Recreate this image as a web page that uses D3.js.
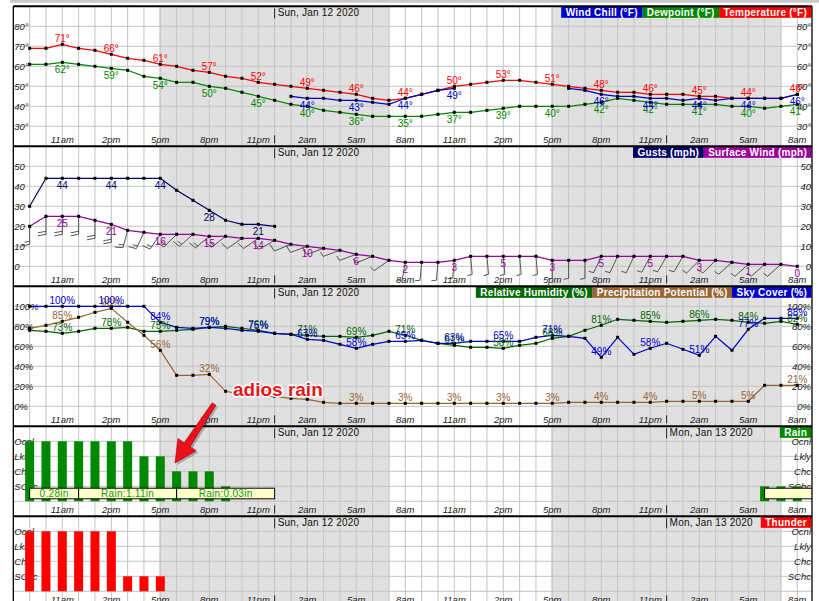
<!DOCTYPE html>
<html><head><meta charset="utf-8">
<script src="https://cdn.jsdelivr.net/npm/d3@7"></script>
<style>
body{margin:0;background:#fff;}
svg{display:block;}
text{font-family:"Liberation Sans",Arial,sans-serif;}
</style></head><body>
<svg id="chart" width="819" height="601"></svg>
<script>
// ---------------- DATA ----------------
const startTime = new Date(2020, 0, 11, 9);   // first forecast hour (Sat 9am)
const hourCount = 48;
const temperature = [69,69,71,69,68,66,64,63,61,60,58,57,55,54,52,51,50,49,48,47,46,44,43,44,46,48,50,51,52,53,53,52,51,50,49,48,47,47,46,46,46,45,45,44,44,44,44,46];
const dewpoint    = [61,61,62,61,60,59,58,55,54,52,52,50,49,47,45,43,41,40,38,37,36,35,35,35,35,36,37,37,38,39,40,40,40,40,41,42,44,43,42,41,41,41,41,40,40,39,40,41];
const windChill   = [null,null,null,null,null,null,null,null,null,null,null,null,null,null,null,null,45,44,44,43,43,42,41,44,46,48,49,null,null,null,null,null,null,49,48,46,45,45,44,44,43,44,43,44,44,44,44,46];
const gusts       = [30,44,44,44,44,44,44,44,44,38,33,28,23,21,21,20,null,null,null,null,null,null,null,null,null,null,null,null,null,null,null,null,null,null,null,null,null,null,null,null,null,null,null,null,null,null,null,null];
const surfaceWind = [20,25,25,25,23,21,18,17,16,16,16,15,15,14,14,13,11,10,9,8,6,5,3,2,2,2,3,5,5,5,5,5,3,3,3,5,5,5,5,5,5,3,3,2,1,1,1,0];
const windDir     = [180,180,180,180,180,180,195,205,215,225,228,230,232,235,235,240,248,250,250,250,250,248,235,190,185,185,185,175,175,175,175,175,180,180,180,205,205,205,208,210,210,225,225,228,228,228,228,0];
const humidity    = [76,75,73,75,78,78,79,75,75,76,77,79,80,78,76,73,72,71,70,70,69,71,75,71,66,63,61,59,59,58,61,63,68,70,76,81,87,86,85,84,85,86,87,86,84,83,85,82];
const precipPot   = [78,81,85,89,94,98,84,71,56,31,31,32,15,12,11,10,8,7,4,3,3,3,3,3,3,3,3,3,3,3,3,3,3,4,4,4,4,4,4,5,5,5,5,5,5,21,21,21];
const skyCover    = [100,100,100,100,100,100,100,100,84,79,78,79,78,76,75,73,72,67,66,62,58,62,65,65,66,63,63,65,65,65,65,69,71,70,68,49,69,52,58,63,57,51,70,56,77,88,88,88];
const rainLevel   = [4,4,4,4,4,4,4,3,3,2,2,2,1,0,0,0,0,0,0,0,0,0,0,0,0,0,0,0,0,0,0,0,0,0,0,0,0,0,0,0,0,0,0,0,0,1,1,1];
const thunderLevel= [4,4,4,4,4,4,1,1,1,0,0,0,0,0,0,0,0,0,0,0,0,0,0,0,0,0,0,0,0,0,0,0,0,0,0,0,0,0,0,0,0,0,0,0,0,0,0,0];
const chanceLabels = ["SChc","Chc","Lkly","Ocnl"];
const rainTotalText  = ["0.28in","Rain:1.11in","Rain:0.03in",""];
const rainTotalStart = [0,3,9,45];
const rainTotalEnd   = [3,9,15,51];
const tempTicks = [30,40,50,60,70,80];
const windTicks = [0,10,20,30,40,50];
const pctTicks  = [0,20,40,60,80,100];
const nightStart = [new Date(2020,0,11,16,55), new Date(2020,0,12,16,55)];
const nightEnd   = [new Date(2020,0,12,7,2),  new Date(2020,0,13,7,2)];
const dayLabels  = ["Sun, Jan 12 2020","Mon, Jan 13 2020"];
const dayStarts  = [new Date(2020,0,12,0), new Date(2020,0,13,0)];

// ---------------- SETUP ----------------
const times = d3.range(hourCount).map(i => d3.timeHour.offset(startTime, i));
const labelIdx = d3.range(hourCount).filter(i => times[i].getHours() % 3 === 2);
const fmtHour = d => d3.timeFormat("%-I%p")(d).toLowerCase();

const svg = d3.select("#chart");
svg.append("rect").attr("width",819).attr("height",601).attr("fill","#fff");
svg.append("rect").attr("x",10).attr("y",0).attr("width",809).attr("height",2.7).attr("fill","#c8c8c8");

const X0 = 13.3, X1 = 812;
const x = d3.scaleTime()
  .domain([new Date(2020,0,11,8), new Date(2020,0,13,9)])
  .range([X0, X0 + 49*16.333]);

const panels = [
  {id:"temp", top:6.3,   bottom:146.3, domain:[20,90],  ticks:tempTicks, fmt:d=>d+"°"},
  {id:"wind", top:146.3, bottom:286.3, domain:[-10,60], ticks:windTicks, fmt:d=>String(d)},
  {id:"pct",  top:286.3, bottom:426.3, domain:[-20,120],ticks:pctTicks,  fmt:d=>d+"%"},
  {id:"rain", top:426.3, bottom:516.3, domain:[-1,5],   ticks:[1,2,3,4], fmt:d=>chanceLabels[d-1]},
  {id:"thun", top:516.3, bottom:606.3, domain:[-1,5],   ticks:[1,2,3,4], fmt:d=>chanceLabels[d-1]}
];

const defs = svg.append("defs");
panels.forEach(p => {
  p.y = d3.scaleLinear().domain(p.domain).range([p.bottom, p.top]);
  defs.append("clipPath").attr("id","clip-"+p.id).append("rect")
    .attr("x",X0).attr("y",p.top).attr("width",X1-X0).attr("height",p.bottom-p.top);
  const g = svg.append("g").attr("clip-path","url(#clip-"+p.id+")");
  p.g = g;
  g.append("rect").attr("x",X0).attr("y",p.top).attr("width",X1-X0).attr("height",p.bottom-p.top).attr("fill","#fff");
  nightStart.forEach((s,i) => {
    g.append("rect").attr("x",x(s)).attr("y",p.top).attr("width",x(nightEnd[i])-x(s))
      .attr("height",p.bottom-p.top).attr("fill","#e0e0e0");
  });
  g.selectAll(".vg").data(times).join("line")
    .attr("x1",d=>x(d)).attr("x2",d=>x(d)).attr("y1",p.top).attr("y2",p.bottom)
    .attr("stroke","#c4c4c4").attr("stroke-width",1);
  g.selectAll(".hg").data(p.ticks.concat(p.id==="rain"||p.id==="thun"?[0]:[])).join("line")
    .attr("x1",X0).attr("x2",X1).attr("y1",d=>p.y(d)).attr("y2",d=>p.y(d))
    .attr("stroke","#c4c4c4").attr("stroke-width",1);
  // y labels
  g.selectAll(".yl").data(p.ticks).join("text")
    .attr("x",X0+1).attr("y",d=>p.y(d)+3.5).text(p.fmt)
    .attr("font-size",9.5).attr("font-style","italic").attr("fill","#222");
  g.selectAll(".yr").data(p.ticks).join("text")
    .attr("x",X1-1).attr("y",d=>p.y(d)+3.5).attr("text-anchor","end").text(p.fmt)
    .attr("font-size",9.5).attr("font-style","italic").attr("fill","#222");
  // time labels
  g.selectAll(".tl").data(labelIdx).join("text")
    .attr("x",i=>x(times[i])).attr("y",p.bottom-3.5).attr("text-anchor","middle")
    .text(i=>fmtHour(times[i])).attr("font-size",9.5).attr("font-style","italic").attr("fill","#222");
  // day markers
  dayStarts.forEach((d,i) => {
    g.append("line").attr("x1",x(d)).attr("x2",x(d)).attr("y1",p.top+2).attr("y2",p.top+12)
      .attr("stroke","#222").attr("stroke-width",1);
    g.append("line").attr("x1",x(d)).attr("x2",x(d)).attr("y1",p.bottom-11).attr("y2",p.bottom-3)
      .attr("stroke","#222").attr("stroke-width",1);
    g.append("text").attr("x",x(d)+3).attr("y",p.top+10).text(dayLabels[i])
      .attr("font-size",10).attr("letter-spacing",0.2).attr("fill","#111");
  });
});

function drawSeries(p, values, color) {
  const line = d3.line().defined(d=>d!=null).x((d,i)=>x(times[i])).y(d=>p.y(d));
  p.g.append("path").datum(values).attr("d",line).attr("fill","none")
    .attr("stroke",color).attr("stroke-width",1.2);
}
function drawMarkers(p, values) {
  p.g.append("g").selectAll("rect").data(values.map((v,i)=>[v,i]).filter(d=>d[0]!=null)).join("rect")
    .attr("x",d=>x(times[d[1]])-1.5).attr("y",d=>p.y(d[0])-1.5).attr("width",3).attr("height",3).attr("fill","#000");
}
function drawLabels(p, values, color, above, suffix) {
  p.g.append("g").selectAll("text").data(labelIdx.filter(i=>values[i]!=null)).join("text")
    .attr("x",i=>x(times[i])).attr("y",i=>p.y(values[i]) + (above ? -2.5 : 10.5))
    .attr("text-anchor","middle").attr("font-size",10).attr("fill",color)
    .text(i=>values[i]+suffix);
}
function drawLegend(p, items) {
  const lg = p.g.append("g");
  let right = X1 - 0.5;
  for (let k = items.length-1; k >= 0; k--) {
    const r = lg.append("rect");
    const t = lg.append("text").text(items[k][0]).attr("font-size",10).attr("font-weight","bold")
      .attr("letter-spacing",0.25).attr("fill","#fff").attr("y",p.top+9.6);
    const w = t.node().getComputedTextLength() + 9;
    right -= w;
    r.attr("x",right).attr("y",p.top).attr("width",w).attr("height",11.5).attr("fill",items[k][1]);
    t.attr("x",right+4.5);
  }
}

// ---------------- PANEL 1: temperatures ----------------
const P1 = panels[0];
const C = {temp:"#ff0000", dew:"#008800", chill:"#0000cc", gust:"#000066", wind:"#990099",
           rh:"#006600", pop:"#996633", sky:"#0000cc", rain:"#008800", thunder:"#ff0000"};
drawSeries(P1, dewpoint, C.dew);
drawSeries(P1, temperature, C.temp);
drawSeries(P1, windChill, C.chill);
drawMarkers(P1, dewpoint); drawMarkers(P1, temperature); drawMarkers(P1, windChill);
drawLabels(P1, temperature, C.temp, true, "°");
drawLabels(P1, dewpoint, C.dew, false, "°");
drawLabels(P1, windChill, C.chill, false, "°");
drawLegend(P1, [["Wind Chill (°F)",C.chill],["Dewpoint (°F)",C.dew],["Temperature (°F)",C.temp]]);

// ---------------- PANEL 2: wind ----------------
const P2 = panels[1];
const barbG = P2.g.append("g").attr("stroke","#444").attr("stroke-width",0.9).attr("fill","none");
surfaceWind.forEach((v,i) => {
  if (v <= 0) return;
  const px = x(times[i]), py = P2.y(v);
  const rad = windDir[i]*Math.PI/180;
  const sx = Math.sin(rad), sy = -Math.cos(rad);
  const L = 18;
  const ex = px + sx*L, ey = py + sy*L;
  const nx = -sy, ny = sx;
  let kt = Math.round(v*0.869/5)*5;
  let full = Math.floor(kt/10), half = (kt % 10) >= 5 ? 1 : 0;
  if (kt < 5) { full = 0; half = 1; }
  let d = `M${px},${py}L${ex},${ey}`;
  let pos = 0;
  for (let f = 0; f < full; f++) {
    const bx = ex - sx*pos, by = ey - sy*pos;
    d += `M${bx},${by}l${nx*8+sx*1.5},${ny*8+sy*1.5}`;
    pos += 3;
  }
  if (half) {
    const bx = ex - sx*pos, by = ey - sy*pos;
    d += `M${bx},${by}l${nx*5+sx*1},${ny*5+sy*1}`;
  }
  barbG.append("path").attr("d",d);
});
drawSeries(P2, surfaceWind, C.wind);
drawSeries(P2, gusts, C.gust);
drawMarkers(P2, surfaceWind); drawMarkers(P2, gusts);
drawLabels(P2, gusts, C.gust, false, "");
drawLabels(P2, surfaceWind, C.wind, false, "");
drawLegend(P2, [["Gusts (mph)",C.gust],["Surface Wind (mph)",C.wind]]);

// ---------------- PANEL 3: percentages ----------------
const P3 = panels[2];
drawSeries(P3, humidity, C.rh);
drawSeries(P3, precipPot, C.pop);
drawSeries(P3, skyCover, C.sky);
drawMarkers(P3, humidity); drawMarkers(P3, precipPot); drawMarkers(P3, skyCover);
drawLabels(P3, humidity, C.rh, true, "%");
drawLabels(P3, precipPot, C.pop, true, "%");
drawLabels(P3, skyCover, C.sky, true, "%");
drawLegend(P3, [["Relative Humidity (%)",C.rh],["Precipitation Potential (%)",C.pop],["Sky Cover (%)",C.sky]]);

// ---------------- PANEL 4 & 5: rain / thunder ----------------
function drawBars(p, levels, color) {
  p.g.append("g").selectAll("rect").data(levels.map((v,i)=>[v,i]).filter(d=>d[0]>0)).join("rect")
    .attr("x",d=>x(times[d[1]])-4.5).attr("width",9)
    .attr("y",d=>p.y(d[0])).attr("height",d=>p.y(0)-p.y(d[0])).attr("fill",color);
}
const P4 = panels[3], P5 = panels[4];
drawBars(P4, rainLevel, C.rain);
const boxes = P4.g.append("g");
rainTotalText.forEach((t,k) => {
  const a = x(d3.timeHour.offset(startTime, rainTotalStart[k]));
  const b = x(d3.timeHour.offset(startTime, rainTotalEnd[k]));
  boxes.append("rect").attr("x",a).attr("y",488.2).attr("width",b-a).attr("height",10.6)
    .attr("fill","#ffffcc").attr("stroke","#000").attr("stroke-width",1);
  boxes.append("text").attr("x",(a+b)/2).attr("y",497.2).attr("text-anchor","middle")
    .attr("font-size",10).attr("letter-spacing",0.3).attr("fill","#119911").text(t);
});
drawLegend(P4, [["Rain",C.rain]]);
drawBars(P5, thunderLevel, C.thunder);
drawLegend(P5, [["Thunder",C.thunder]]);

// ---------------- FRAME ----------------
const frame = svg.append("g").attr("stroke","#000").attr("fill","none");
frame.append("line").attr("x1",X0).attr("x2",X0).attr("y1",6.3).attr("y2",601).attr("stroke-width",1.3);
frame.append("line").attr("x1",X1).attr("x2",X1).attr("y1",6.3).attr("y2",601).attr("stroke-width",1.3);
panels.forEach(p => {
  frame.append("line").attr("x1",X0).attr("x2",X1).attr("y1",p.top).attr("y2",p.top).attr("stroke-width",2);
});

// ---------------- ANNOTATION ----------------
const ann = svg.append("g");
const tail = [214, 404], tip = [175, 463];
const dx = tip[0]-tail[0], dy = tip[1]-tail[1], len = Math.hypot(dx,dy);
const ux = dx/len, uy = dy/len, nx = -uy, ny = ux;
const neck = [tip[0]-ux*22, tip[1]-uy*22];
const arrowPts = [
  [tail[0]+nx*2.2, tail[1]+ny*2.2], [neck[0]+nx*3.6, neck[1]+ny*3.6], [neck[0]+nx*11, neck[1]+ny*11],
  tip, [neck[0]-nx*11, neck[1]-ny*11], [neck[0]-nx*3.6, neck[1]-ny*3.6], [tail[0]-nx*2.2, tail[1]-ny*2.2]
];
ann.append("polygon").attr("points",arrowPts.map(p=>(p[0]+2)+","+(p[1]+2)).join(" ")).attr("fill","rgba(0,0,0,0.25)");
ann.append("polygon").attr("points",arrowPts.map(p=>p.join(",")).join(" ")).attr("fill","#e8101a").attr("stroke","#b00010").attr("stroke-width",0.6);
ann.append("text").attr("x",233).attr("y",395.5).text("adios rain")
  .attr("font-size",19).attr("font-weight","bold").attr("fill","#e8141c")
  .attr("stroke","#fff").attr("stroke-width",3).attr("paint-order","stroke").attr("stroke-linejoin","round");
</script>
</body></html>
